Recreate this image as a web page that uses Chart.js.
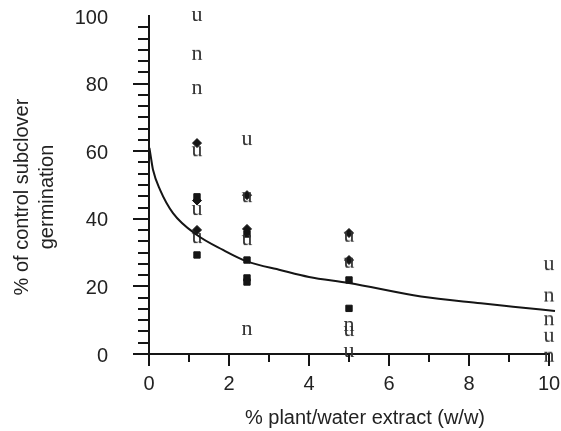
<!DOCTYPE html>
<html>
<head>
<meta charset="utf-8">
<script src="https://cdn.jsdelivr.net/npm/chart.js@4"></script>
<style>
  html, body { margin: 0; padding: 0; background: #fff; }
</style>
</head>
<body>
<canvas id="chart" width="561" height="431"></canvas>
<script>
// text markers "u"
const uX = [1.2, 1.2, 1.2, 1.2, 2.45, 2.45, 2.45, 5, 5, 5, 5, 10, 10];
const uY = [100, 60, 42.6, 34.3, 63.3, 46.4, 33.7, 34.7, 27, 6.8, 0.6, 26.3, 5.1];
// text markers "n"
const nX = [1.2, 1.2, 2.45, 5, 10, 10, 10];
const nY = [88.5, 78.4, 7.1, 8.3, 17, 10, -0.8];
// filled diamonds
const dX = [1.2, 1.2, 1.2, 2.45, 2.45, 5, 5];
const dY = [62.4, 45.4, 36.7, 47, 37, 35.8, 27.8];
// filled squares
const sX = [1.2, 1.2, 2.45, 2.45, 2.45, 2.45, 5, 5];
const sY = [46.5, 29.3, 35.5, 27.8, 22.5, 21.3, 21.9, 13.5];
// fitted curve
const curveX = [0.01, 0.05, 0.1, 0.28, 0.6, 1.2, 1.85, 2.45, 3.3, 4, 5, 6.8, 8.3, 9.1, 10.15];
const curveY = [61, 58, 54.5, 48.5, 41.7, 35.2, 30.8, 27.4, 24.8, 22.8, 21, 17, 15, 14, 12.7];

const xTicks = [0, 2, 4, 6, 8, 10];
const xMinor = [1, 3, 5, 7, 9];
const yTicks = [0, 20, 40, 60, 80, 100];

const xTitle = "% plant/water extract (w/w)";
const yTitle = ["% of control subclover", "germination"];

const ink = "#151515";
const font = '"Liberation Sans", Arial, sans-serif';

function pts(xs, ys) {
    return xs.map((x, i) => ({ x: x, y: ys[i] }));
}

function glyph(ch) {
    const c = document.createElement("canvas");
    c.width = 18;
    c.height = 24;
    const g = c.getContext("2d");
    g.font = '22px "Liberation Serif", serif';
    g.fillStyle = "#333";
    g.textAlign = "center";
    g.textBaseline = "alphabetic";
    g.fillText(ch, 9, 17);
    return c;
}

// minor ticks and axis titles
const extras = {
    id: "extras",
    afterDraw(chart) {
        const ctx = chart.ctx;
        const xs = chart.scales.x;
        const ys = chart.scales.y;
        const area = chart.chartArea;
        ctx.save();
        ctx.strokeStyle = ink;
        ctx.lineWidth = 2;
        ctx.beginPath();
        for (let i = 0; i <= 30; i++) {
            if (i % 6 === 0) continue;
            const py = Math.round(ys.getPixelForValue(i * 20 / 6));
            ctx.moveTo(area.left - 11, py);
            ctx.lineTo(area.left, py);
        }
        xMinor.forEach(v => {
            const px = Math.round(xs.getPixelForValue(v));
            ctx.moveTo(px, area.bottom);
            ctx.lineTo(px, area.bottom + 8);
        });
        ctx.stroke();

        ctx.fillStyle = "#222";
        ctx.font = "20px " + font;
        ctx.textAlign = "center";
        ctx.textBaseline = "middle";
        ctx.fillText(xTitle, 365, 418);
        ctx.translate(0, 197);
        ctx.rotate(-Math.PI / 2);
        ctx.fillText(yTitle[0], 0, 22);
        ctx.fillText(yTitle[1], 0, 47);
        ctx.restore();
    }
};

new Chart(document.getElementById("chart"), {
    type: "scatter",
    data: {
        datasets: [
            {
                type: "line",
                data: pts(curveX, curveY),
                borderColor: ink,
                borderWidth: 2,
                pointRadius: 0,
                cubicInterpolationMode: "monotone",
                clip: false
            },
            {
                data: pts(uX, uY),
                pointStyle: glyph("u"),
                clip: false
            },
            {
                data: pts(nX, nY),
                pointStyle: glyph("n"),
                clip: false
            },
            {
                data: pts(dX, dY),
                pointStyle: "rectRot",
                pointRadius: 4.5,
                backgroundColor: ink,
                borderColor: ink,
                borderWidth: 1,
                clip: false
            },
            {
                data: pts(sX, sY),
                pointStyle: "rect",
                pointRadius: 4.5,
                backgroundColor: ink,
                borderColor: ink,
                borderWidth: 1,
                clip: false
            }
        ]
    },
    options: {
        responsive: false,
        animation: false,
        devicePixelRatio: 1,
        layout: { padding: { left: 0, right: 12, top: 16, bottom: 0 } },
        plugins: {
            legend: { display: false },
            tooltip: { enabled: false }
        },
        scales: {
            x: {
                type: "linear",
                min: 0,
                max: 10,
                afterBuildTicks: s => { s.ticks = xTicks.map(v => ({ value: v })); },
                afterFit: s => { s.height = 77; s.paddingLeft = 0; s.paddingRight = 0; },
                border: { display: true, color: ink, width: 2 },
                grid: { drawOnChartArea: false, tickLength: 12, lineWidth: 2, color: ink },
                ticks: { color: "#222", padding: 6, font: { size: 20, family: font } }
            },
            y: {
                min: 0,
                max: 100,
                afterBuildTicks: s => { s.ticks = yTicks.map(v => ({ value: v })); },
                afterFit: s => { s.width = 149; s.paddingTop = 0; s.paddingBottom = 0; },
                border: { display: true, color: ink, width: 2 },
                grid: {
                    drawOnChartArea: false,
                    tickLength: 16,
                    lineWidth: 2,
                    color: c => (c.tick && c.tick.value === 100) ? "rgba(0,0,0,0)" : ink
                },
                ticks: { color: "#222", padding: 25, labelOffset: 2, font: { size: 20, family: font } }
            }
        }
    },
    plugins: [extras]
});
</script>
</body>
</html>
